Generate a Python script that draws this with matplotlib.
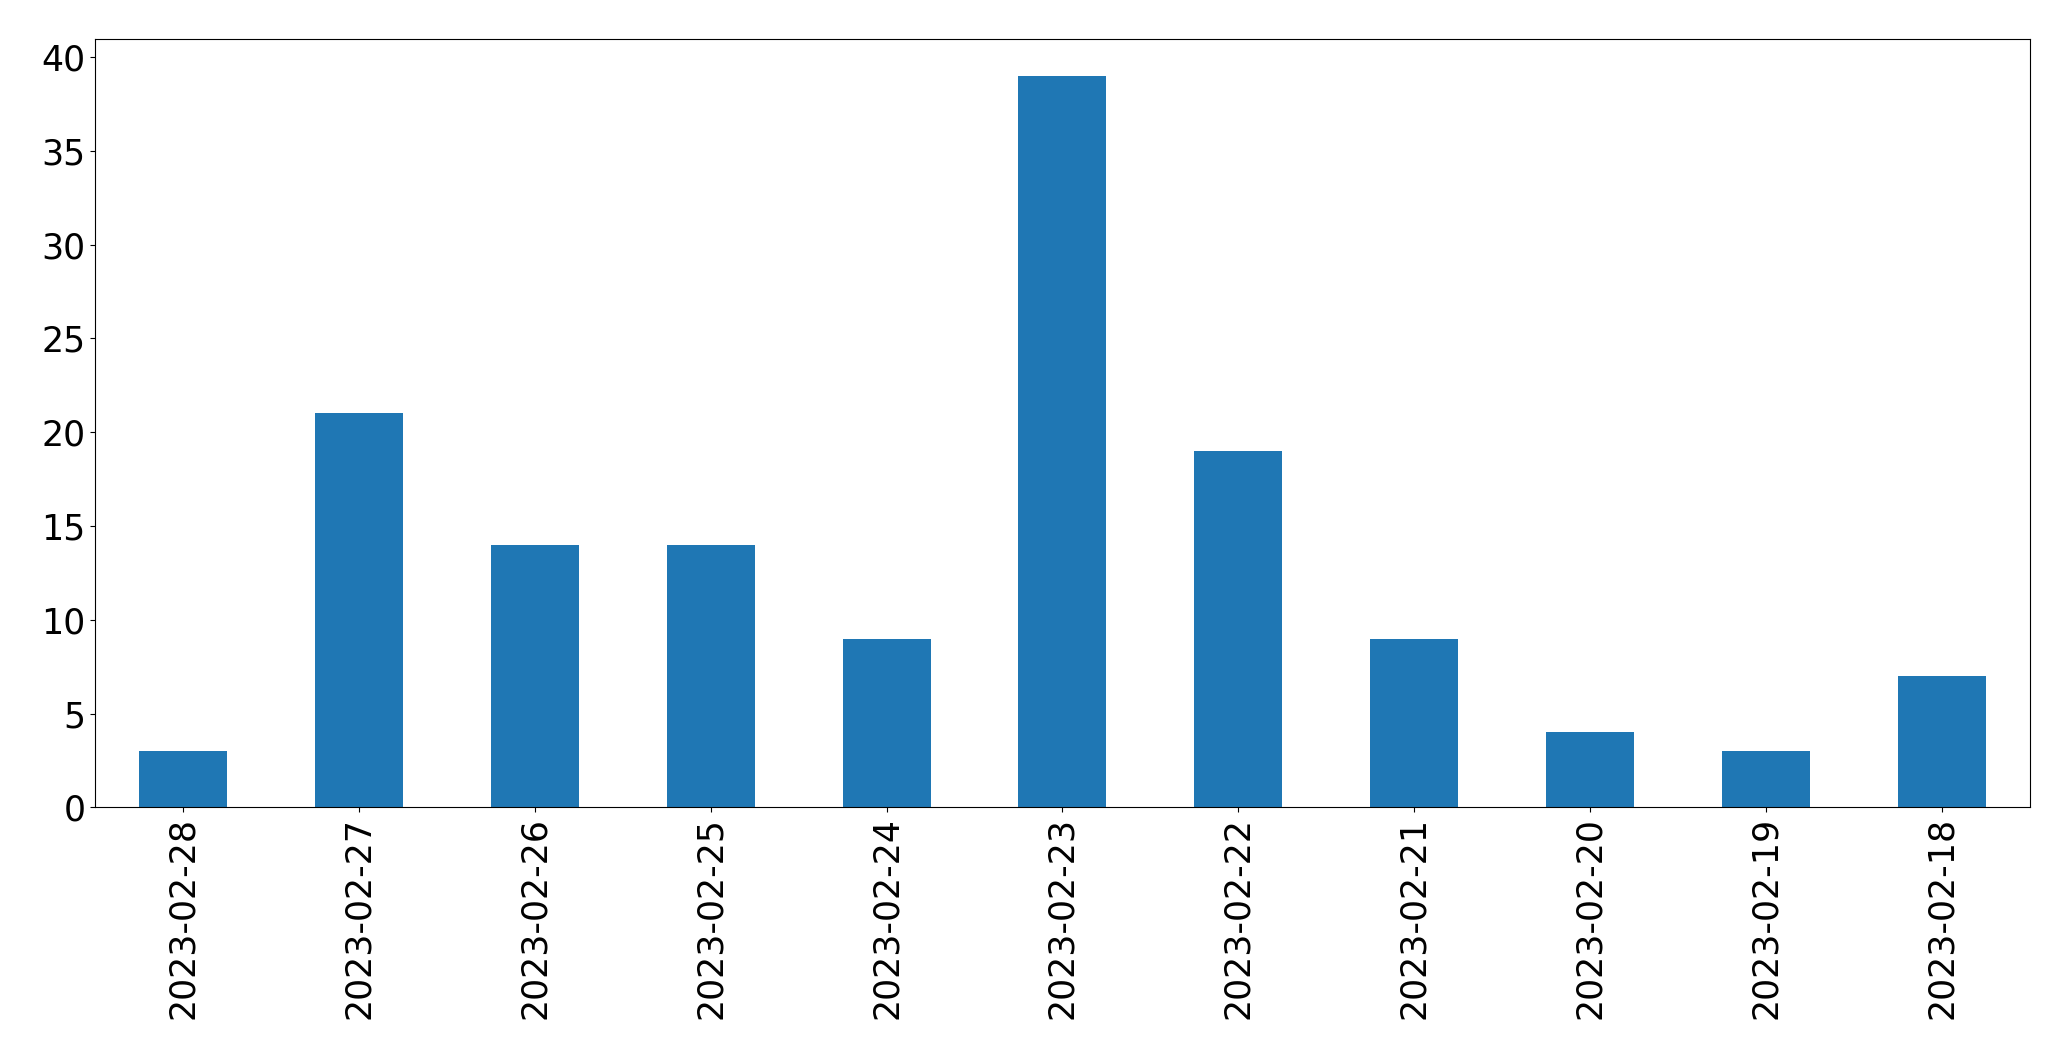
import matplotlib
matplotlib.use("Agg")
import matplotlib.pyplot as plt
import numpy as np

# dates as they appear on the x axis (newest first)
dates = ['2023-02-28', '2023-02-27', '2023-02-26', '2023-02-25', '2023-02-24',
         '2023-02-23', '2023-02-22', '2023-02-21', '2023-02-20', '2023-02-19',
         '2023-02-18']
counts = [3, 21, 14, 14, 9, 39, 19, 9, 4, 3, 7]

fig, ax = plt.subplots(figsize=(20.71, 10.61), dpi=100)
x = np.arange(len(dates))
ax.bar(x, counts, width=0.5, color='#1f77b4')
ax.set_xlim(-0.5, len(dates) - 0.5)
ax.set_xticks(x)
ax.set_xticklabels(dates, rotation=90)
ax.tick_params(axis='both', labelsize=25)
fig.subplots_adjust(left=0.046, right=0.980, top=0.963, bottom=0.239)
fig.savefig('out.png')
